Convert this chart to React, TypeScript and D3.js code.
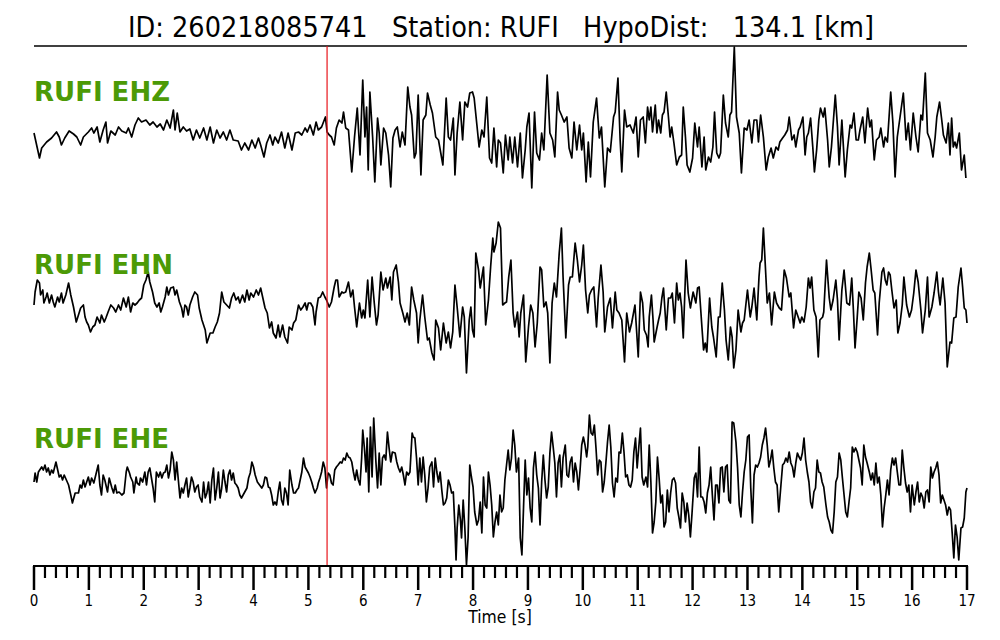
import React from 'react';
import * as d3 from 'd3';

type Pt = [number, number];

const TITLE = 'ID: 260218085741   Station: RUFI   HypoDist:   134.1 [km]';
const CHANNELS = ['RUFI EHZ', 'RUFI EHN', 'RUFI EHE'];
const P_PICK = 5.34;
const MAJOR_TICKS = [0, 1, 2, 3, 4, 5, 6, 7, 8, 9, 10, 11, 12, 13, 14, 15, 16, 17];
const X_LABEL = 'Time [s]';

const EHZ: Pt[] = [
[0.00,-3],[0.10,-28],[0.14,-18],[0.23,-12],[0.32,-8],[0.41,-2],[0.46,-7],[0.50,-15],[0.56,-8],[0.64,-1],[0.72,-4],[0.78,-7],[0.85,-15],[0.90,-7],[0.99,-2],[1.05,2],[1.09,-3],[1.15,3],[1.20,-12],[1.26,0],[1.31,8],[1.34,-13],[1.40,-1],[1.48,-5],[1.54,3],[1.60,-1],[1.68,-3],[1.72,2],[1.78,-7],[1.84,5],[1.90,12],[1.96,8],[2.04,10],[2.11,5],[2.17,8],[2.24,3],[2.30,6],[2.36,0],[2.42,10],[2.48,2],[2.54,20],[2.57,0],[2.61,17],[2.66,-2],[2.72,3],[2.78,-1],[2.84,1],[2.90,-10],[2.96,0],[3.02,-8],[3.09,2],[3.15,-10],[3.21,3],[3.27,-13],[3.33,0],[3.39,-8],[3.45,-2],[3.51,-10],[3.57,0],[3.63,-10],[3.72,-11],[3.78,-20],[3.84,-13],[3.91,-20],[3.97,-10],[4.03,-18],[4.09,-8],[4.13,-15],[4.19,-27],[4.24,-13],[4.30,-5],[4.35,-15],[4.39,-7],[4.45,-13],[4.51,-2],[4.57,-18],[4.63,-3],[4.70,-20],[4.76,-3],[4.82,-2],[4.88,-5],[4.94,2],[4.98,-2],[5.03,5],[5.09,-5],[5.14,8],[5.18,0],[5.24,3],[5.31,13],[5.34,-2],
[5.38,-5],[5.42,-7],[5.47,-15],[5.51,2],[5.56,10],[5.61,7],[5.64,18],[5.68,2],[5.73,0],[5.79,-42],[5.84,-7],[5.89,22],[5.94,-25],[5.99,50],[6.03,-7],[6.06,23],[6.09,-40],[6.12,38],[6.17,-7],[6.21,-52],[6.26,12],[6.29,-3],[6.32,-35],[6.37,2],[6.41,-3],[6.46,-25],[6.50,-57],[6.54,-8],[6.58,0],[6.62,3],[6.67,-17],[6.71,-2],[6.76,-15],[6.81,43],[6.85,23],[6.88,15],[6.93,-28],[6.96,-23],[7.00,35],[7.05,-45],[7.09,10],[7.14,15],[7.17,37],[7.22,25],[7.26,17],[7.32,-7],[7.37,-10],[7.45,-35],[7.51,32],[7.55,-7],[7.59,-10],[7.64,12],[7.67,-45],[7.71,-3],[7.76,28],[7.81,-10],[7.85,28],[7.90,23],[7.94,37],[7.99,38],[8.02,32],[8.07,5],[8.11,-17],[8.16,0],[8.20,-7],[8.25,33],[8.30,-28],[8.34,-33],[8.38,2],[8.43,-37],[8.46,-10],[8.50,-13],[8.55,-43],[8.59,-5],[8.64,-30],[8.67,-7],[8.72,-33],[8.76,-7],[8.81,-37],[8.86,-3],[8.90,-48],[8.95,-20],[8.98,3],[9.02,17],[9.07,-58],[9.12,18],[9.16,-23],[9.21,-30],[9.25,-3],[9.29,-20],[9.35,55],[9.40,-3],[9.45,-10],[9.49,-27],[9.54,38],[9.57,20],[9.61,15],[9.66,8],[9.71,13],[9.75,-18],[9.80,-28],[9.84,8],[9.89,-20],[9.94,5],[9.98,-20],[10.01,-3],[10.06,-52],[10.10,-12],[10.14,-47],[10.19,8],[10.25,32],[10.30,-8],[10.34,3],[10.40,-57],[10.45,-18],[10.50,-22],[10.56,13],[10.59,18],[10.64,52],[10.68,-10],[10.71,-42],[10.76,20],[10.80,3],[10.86,5],[10.92,-3],[10.97,13],[11.01,-27],[11.05,10],[11.10,13],[11.14,-13],[11.18,23],
[11.21,10],[11.24,23],[11.27,-2],[11.32,25],[11.35,-3],[11.38,10],[11.42,-3],[11.45,15],[11.48,18],[11.52,38],[11.56,13],[11.59,-7],[11.62,3],[11.66,-13],[11.71,-35],[11.76,-27],[11.80,-25],[11.83,23],[11.87,-7],[11.90,-35],[11.95,-42],[12.00,-28],[12.04,7],[12.09,-17],[12.12,3],[12.17,-37],[12.21,-7],[12.24,-40],[12.29,-27],[12.33,-32],[12.37,-17],[12.40,18],[12.44,-23],[12.48,-28],[12.51,-23],[12.56,35],[12.60,7],[12.65,-7],[12.68,15],[12.71,18],[12.76,83],[12.80,13],[12.85,-3],[12.89,-43],[12.94,2],[12.99,0],[13.03,10],[13.08,-13],[13.12,10],[13.17,10],[13.20,-12],[13.24,15],[13.29,-7],[13.34,-40],[13.38,-27],[13.43,-18],[13.47,-28],[13.52,-17],[13.56,-20],[13.59,-12],[13.64,-8],[13.68,-5],[13.73,0],[13.76,13],[13.81,-10],[13.85,-5],[13.88,-17],[13.93,0],[13.96,3],[14.01,13],[14.05,-25],[14.08,-7],[14.11,-3],[14.15,12],[14.19,-17],[14.22,-42],[14.26,-20],[14.30,10],[14.33,22],[14.38,13],[14.41,22],[14.46,-10],[14.49,-37],[14.53,-17],[14.60,35],[14.64,3],[14.67,-35],[14.72,10],[14.78,-47],[14.82,-20],[14.87,5],[14.90,2],[14.94,17],[14.98,-10],[15.02,-10],[15.05,0],[15.10,13],[15.14,-13],[15.19,22],[15.23,3],[15.26,10],[15.31,-30],[15.35,-10],[15.40,-7],[15.43,2],[15.48,-17],[15.51,-7],[15.55,-12],[15.61,38],[15.65,7],[15.69,-47],[15.73,-7],[15.78,13],[15.84,37],[15.89,-10],[15.93,7],[15.97,-20],[16.02,17],[16.07,-7],[16.11,-22],[16.16,15],[16.19,10],[16.24,57],[16.28,-3],[16.33,-10],[16.38,-27],[16.42,-7],[16.45,13],[16.50,28],[16.54,10],[16.57,-5],[16.62,-13],[16.66,7],[16.69,-25],[16.72,12],[16.75,-17],[16.78,-12],[16.81,-18],[16.86,-3],[16.90,-40],[16.95,-25],[16.98,-48]
];

const EHN: Pt[] = [
[0.00,-5],[0.02,8],[0.06,20],[0.10,17],[0.12,5],[0.16,10],[0.18,-3],[0.22,3],[0.24,7],[0.28,-3],[0.32,5],[0.35,-2],[0.38,-7],[0.43,3],[0.46,-2],[0.50,7],[0.53,-3],[0.58,5],[0.63,17],[0.67,5],[0.72,-7],[0.77,-22],[0.81,-15],[0.85,-8],[0.90,-5],[0.93,-17],[0.96,-22],[0.99,-25],[1.03,-32],[1.07,-27],[1.11,-25],[1.15,-17],[1.20,-23],[1.23,-15],[1.28,-22],[1.31,-18],[1.35,-12],[1.40,-5],[1.45,-8],[1.49,-12],[1.54,-5],[1.58,-10],[1.63,2],[1.68,-7],[1.72,3],[1.76,-12],[1.80,-3],[1.84,-5],[1.88,-3],[1.92,0],[1.96,2],[2.00,15],[2.04,20],[2.08,28],[2.11,18],[2.16,8],[2.20,-3],[2.24,-7],[2.28,-3],[2.31,-12],[2.34,-7],[2.39,3],[2.42,13],[2.45,5],[2.49,12],[2.54,13],[2.57,5],[2.60,10],[2.65,-2],[2.69,-8],[2.72,-17],[2.75,-5],[2.78,-7],[2.81,-15],[2.84,-5],[2.89,3],[2.93,8],[2.98,5],[3.01,-8],[3.06,-20],[3.09,-25],[3.12,-30],[3.15,-43],[3.18,-38],[3.21,-33],[3.26,-33],[3.30,-27],[3.34,-22],[3.38,-13],[3.42,8],[3.46,-2],[3.51,-5],[3.56,-8],[3.60,2],[3.64,7],[3.68,0],[3.72,3],[3.75,-3],[3.80,5],[3.84,-2],[3.88,10],[3.92,0],[3.95,7],[4.00,3],[4.05,10],[4.09,5],[4.13,12],[4.17,2],[4.21,-8],[4.25,-13],[4.29,-28],[4.33,-22],[4.36,-33],[4.41,-38],[4.45,-25],[4.48,-37],[4.53,-25],[4.57,-37],[4.62,-43],[4.65,-27],[4.70,-30],[4.73,-23],[4.77,-20],[4.82,-5],[4.86,-10],[4.90,-7],[4.94,-3],[4.97,-10],[5.00,-3],[5.04,-3],[5.08,-7],[5.12,-25],[5.14,-12],[5.18,2],[5.22,3],[5.26,8],[5.30,3],[5.33,0],
[5.38,-7],[5.42,-2],[5.47,13],[5.50,20],[5.53,20],[5.56,3],[5.61,8],[5.64,7],[5.68,8],[5.73,18],[5.77,3],[5.81,10],[5.84,-7],[5.88,-27],[5.93,-3],[5.97,-18],[6.00,-10],[6.03,-18],[6.08,20],[6.12,-17],[6.16,23],[6.20,-3],[6.24,-25],[6.27,-15],[6.32,28],[6.36,10],[6.41,22],[6.44,12],[6.49,23],[6.52,0],[6.55,28],[6.60,35],[6.64,18],[6.67,-3],[6.72,-13],[6.76,-22],[6.80,-13],[6.84,-25],[6.88,13],[6.92,0],[6.97,-13],[7.00,-43],[7.03,-20],[7.08,5],[7.12,-17],[7.17,-40],[7.20,-38],[7.25,-53],[7.29,-60],[7.32,-20],[7.37,-28],[7.41,-50],[7.46,-23],[7.51,-43],[7.55,-32],[7.59,-48],[7.63,-32],[7.67,15],[7.71,-7],[7.76,-37],[7.81,-7],[7.84,-17],[7.88,-73],[7.93,-20],[7.96,-7],[7.99,-30],[8.02,-37],[8.05,47],[8.10,30],[8.13,12],[8.19,33],[8.23,-25],[8.28,0],[8.32,33],[8.36,62],[8.38,48],[8.42,57],[8.46,78],[8.50,72],[8.54,-5],[8.58,-3],[8.61,-2],[8.65,23],[8.69,40],[8.73,-13],[8.76,-27],[8.81,-12],[8.84,-37],[8.87,-13],[8.92,5],[8.96,-62],[9.01,-27],[9.05,-5],[9.09,-13],[9.13,-47],[9.17,-23],[9.22,33],[9.25,30],[9.29,-7],[9.33,-2],[9.36,-13],[9.40,-63],[9.44,-3],[9.48,17],[9.52,3],[9.57,47],[9.61,72],[9.64,23],[9.69,-38],[9.74,15],[9.77,23],[9.81,23],[9.86,57],[9.90,40],[9.94,18],[9.98,35],[10.01,55],[10.05,10],[10.09,-13],[10.12,5],[10.16,10],[10.20,13],[10.25,-27],[10.28,2],[10.33,35],[10.37,8],[10.40,-32],[10.45,-7],[10.50,2],[10.54,-28],[10.59,8],[10.62,-10],[10.66,-13],[10.71,-20],[10.76,-62],[10.80,-13],[10.85,-32],[10.89,-23],[10.95,-5],[11.01,-57],[11.05,8],[11.09,-3],[11.12,-30],[11.16,-35],[11.19,-47],
[11.21,-17],[11.25,5],[11.28,-20],[11.30,-42],[11.35,-28],[11.38,-20],[11.41,-13],[11.44,2],[11.47,12],[11.52,-30],[11.56,2],[11.60,2],[11.63,7],[11.67,-23],[11.71,17],[11.74,0],[11.77,7],[11.80,-7],[11.83,-38],[11.88,40],[11.92,7],[11.96,-8],[12.01,8],[12.06,-3],[12.09,12],[12.12,13],[12.17,-27],[12.20,-50],[12.23,-43],[12.26,-52],[12.31,2],[12.35,-27],[12.38,-37],[12.43,-57],[12.47,-17],[12.50,-17],[12.54,17],[12.58,-10],[12.61,-40],[12.65,-60],[12.69,-27],[12.72,-37],[12.75,-68],[12.79,-50],[12.83,-10],[12.88,-32],[12.91,-23],[12.94,-20],[13.00,10],[13.05,-17],[13.08,-7],[13.12,12],[13.17,-20],[13.21,23],[13.23,37],[13.26,40],[13.29,72],[13.32,40],[13.36,-3],[13.40,7],[13.44,-25],[13.49,8],[13.53,-3],[13.58,-8],[13.62,-10],[13.67,30],[13.71,22],[13.76,3],[13.79,7],[13.84,-28],[13.88,-10],[13.93,-18],[13.96,-23],[13.99,-17],[14.03,-22],[14.07,-7],[14.11,22],[14.14,12],[14.17,23],[14.21,-10],[14.25,-17],[14.29,-57],[14.32,-20],[14.37,-17],[14.39,-12],[14.44,40],[14.49,2],[14.52,-10],[14.56,0],[14.61,20],[14.64,0],[14.67,-40],[14.72,10],[14.76,30],[14.81,-3],[14.86,-5],[14.90,22],[14.93,-10],[14.96,-48],[15.00,-17],[15.03,8],[15.07,2],[15.11,-20],[15.15,17],[15.18,33],[15.22,47],[15.25,32],[15.29,10],[15.32,7],[15.37,-35],[15.40,-3],[15.45,28],[15.48,32],[15.51,20],[15.54,15],[15.57,28],[15.60,25],[15.63,10],[15.67,-8],[15.71,0],[15.74,-33],[15.78,-23],[15.82,-5],[15.85,23],[15.90,-5],[15.95,-17],[15.99,-10],[16.03,7],[16.07,30],[16.11,18],[16.16,-10],[16.19,-33],[16.24,-10],[16.28,23],[16.31,-17],[16.36,-7],[16.40,7],[16.45,28],[16.48,8],[16.51,-5],[16.56,22],[16.60,-3],[16.64,-67],[16.69,-42],[16.72,-43],[16.76,-18],[16.80,-17],[16.84,13],[16.89,32],[16.92,13],[16.95,-8],[16.98,-10],[17.00,-23]
];

const EHE: Pt[] = [
[0.00,-7],[0.02,2],[0.05,-7],[0.08,3],[0.14,8],[0.17,5],[0.20,10],[0.23,3],[0.26,7],[0.29,0],[0.32,5],[0.35,2],[0.40,13],[0.46,-2],[0.49,0],[0.52,-5],[0.55,0],[0.63,-10],[0.67,-20],[0.70,-28],[0.75,-18],[0.81,-18],[0.84,-10],[0.87,-13],[0.90,-5],[0.93,-12],[0.99,-2],[1.02,-10],[1.05,-3],[1.09,-8],[1.17,10],[1.20,-10],[1.23,-20],[1.26,0],[1.29,-5],[1.34,-17],[1.37,-3],[1.42,-13],[1.45,-18],[1.48,-10],[1.51,-18],[1.55,-17],[1.60,-20],[1.64,-18],[1.68,3],[1.70,8],[1.74,2],[1.76,-2],[1.80,-7],[1.82,-18],[1.86,-2],[1.88,-8],[1.92,-10],[1.94,-3],[1.98,-7],[2.02,3],[2.05,-10],[2.08,3],[2.11,7],[2.14,-3],[2.17,-13],[2.20,-27],[2.23,3],[2.27,-2],[2.30,3],[2.33,-3],[2.36,2],[2.39,3],[2.42,10],[2.45,-3],[2.48,5],[2.51,23],[2.54,15],[2.57,-5],[2.60,13],[2.63,-5],[2.66,-23],[2.69,-13],[2.72,-18],[2.75,-10],[2.78,-3],[2.81,-22],[2.84,-13],[2.87,-2],[2.90,-7],[2.93,-17],[2.96,-12],[2.99,-10],[3.02,-22],[3.06,-27],[3.09,-7],[3.12,-23],[3.15,-18],[3.18,-7],[3.21,-28],[3.24,-5],[3.27,7],[3.30,-25],[3.33,-13],[3.36,3],[3.39,-23],[3.42,-13],[3.45,5],[3.48,-7],[3.51,-17],[3.54,0],[3.57,5],[3.60,-5],[3.63,2],[3.66,-8],[3.69,-10],[3.72,-13],[3.75,-20],[3.78,-23],[3.81,-20],[3.84,-17],[3.88,-13],[3.91,-3],[3.94,2],[3.97,13],[4.00,8],[4.03,0],[4.07,-7],[4.11,-10],[4.15,-13],[4.18,-10],[4.21,-2],[4.24,-3],[4.27,-12],[4.30,-13],[4.33,-20],[4.36,-30],[4.39,-27],[4.42,-30],[4.45,-17],[4.48,-7],[4.51,-25],[4.54,-30],[4.57,-13],[4.60,-18],[4.63,-30],[4.66,5],[4.70,-10],[4.73,-18],[4.76,-18],[4.79,-15],[4.82,-13],[4.85,-5],[4.88,3],[4.91,17],[4.94,8],[4.97,5],[5.00,2],[5.03,-2],[5.06,-7],[5.09,-13],[5.12,-18],[5.16,-13],[5.18,-8],[5.21,-3],[5.24,3],[5.27,13],[5.30,7],[5.33,-13],[5.36,2],[5.39,0],[5.42,-8],[5.45,-10],
[5.48,5],[5.51,8],[5.54,10],[5.58,13],[5.61,12],[5.64,17],[5.67,15],[5.70,22],[5.73,18],[5.76,17],[5.79,13],[5.82,3],[5.85,-5],[5.88,5],[5.91,-5],[5.94,-10],[5.97,17],[5.99,45],[6.02,27],[6.05,3],[6.07,37],[6.10,-17],[6.13,48],[6.16,-2],[6.19,57],[6.23,13],[6.26,-13],[6.29,22],[6.32,-10],[6.35,17],[6.38,20],[6.41,15],[6.44,43],[6.47,27],[6.50,13],[6.53,23],[6.58,22],[6.61,13],[6.64,7],[6.67,3],[6.70,8],[6.73,0],[6.76,-10],[6.79,3],[6.82,0],[6.85,3],[6.89,42],[6.91,38],[6.94,37],[6.97,17],[7.00,-10],[7.03,17],[7.06,-7],[7.09,18],[7.12,0],[7.15,-27],[7.18,-13],[7.21,8],[7.25,13],[7.28,-12],[7.31,17],[7.34,3],[7.37,-7],[7.40,3],[7.43,-15],[7.46,-30],[7.49,-28],[7.52,-23],[7.55,-5],[7.58,-10],[7.61,-18],[7.64,-17],[7.67,-53],[7.69,-85],[7.71,-53],[7.74,-30],[7.77,-45],[7.79,-63],[7.82,-25],[7.85,-53],[7.88,-90],[7.91,-62],[7.94,10],[7.97,-2],[8.00,-12],[8.03,-37],[8.07,-50],[8.10,-45],[8.13,-27],[8.16,-58],[8.19,-2],[8.22,-30],[8.25,-33],[8.28,3],[8.31,-10],[8.34,-30],[8.37,-62],[8.40,-47],[8.43,-37],[8.46,-50],[8.49,-20],[8.52,-37],[8.55,-33],[8.58,-5],[8.61,10],[8.64,25],[8.67,5],[8.70,17],[8.73,45],[8.76,30],[8.79,3],[8.83,17],[8.86,-63],[8.89,-80],[8.92,-32],[8.95,15],[8.98,-20],[9.01,-3],[9.04,-33],[9.07,-47],[9.10,7],[9.13,23],[9.16,0],[9.19,-13],[9.22,-50],[9.25,-7],[9.28,20],[9.31,-5],[9.34,-23],[9.37,-12],[9.40,22],[9.43,43],[9.46,28],[9.49,12],[9.52,-22],[9.55,12],[9.58,20],[9.61,-12],[9.64,17],[9.68,30],[9.71,0],[9.74,-2],[9.77,13],[9.80,18],[9.83,-7],[9.86,12],[9.89,3],[9.92,-15],[9.95,5],[9.98,30],[10.01,38],[10.04,30],[10.07,18],[10.09,28],[10.12,60],[10.15,42],[10.18,40],[10.21,50],[10.24,27],[10.27,0],[10.30,15],[10.33,13],[10.36,-17],[10.39,-7],[10.42,12],[10.45,33],[10.48,50],[10.51,28],[10.54,-8],[10.57,-22],[10.60,-3],[10.63,-7],[10.66,23],[10.69,22],[10.72,42],[10.75,23],[10.78,-2],[10.81,0],[10.84,-10],[10.87,-12],[10.90,-5],[10.93,23],[10.96,37],[10.99,7],[11.02,28],[11.05,47],[11.08,-2],[11.11,-10],[11.15,-2],[11.18,-12],
[11.21,30],[11.24,-7],[11.27,-58],[11.30,-47],[11.33,-27],[11.36,18],[11.39,-3],[11.42,-28],[11.45,-20],[11.48,-52],[11.51,-47],[11.54,-15],[11.57,-37],[11.60,-18],[11.63,-5],[11.66,-3],[11.69,-8],[11.72,-33],[11.75,-42],[11.78,-53],[11.81,-18],[11.84,-27],[11.87,-47],[11.90,-28],[11.93,-40],[11.96,-62],[11.99,-38],[12.03,-3],[12.06,2],[12.09,-22],[12.12,28],[12.15,-22],[12.18,-22],[12.21,-27],[12.24,-38],[12.27,-18],[12.30,-10],[12.33,8],[12.36,-20],[12.39,-45],[12.42,-10],[12.45,-10],[12.48,-28],[12.51,7],[12.54,8],[12.57,-17],[12.60,8],[12.63,10],[12.66,-25],[12.69,-28],[12.72,53],[12.75,52],[12.79,33],[12.82,7],[12.85,-30],[12.88,-42],[12.91,-17],[12.94,3],[12.97,15],[13.00,38],[13.03,40],[13.06,-13],[13.09,-48],[13.12,0],[13.15,10],[13.18,8],[13.21,12],[13.24,18],[13.27,30],[13.30,37],[13.33,47],[13.36,30],[13.39,8],[13.42,15],[13.45,25],[13.48,7],[13.51,-7],[13.54,-10],[13.57,-37],[13.61,-10],[13.64,10],[13.67,12],[13.70,17],[13.73,13],[13.76,23],[13.79,12],[13.82,8],[13.85,-2],[13.88,12],[13.91,22],[13.94,18],[13.97,15],[14.00,22],[14.03,37],[14.06,15],[14.09,3],[14.12,-7],[14.15,-27],[14.18,-33],[14.21,-17],[14.24,-13],[14.27,15],[14.30,3],[14.33,2],[14.36,-7],[14.39,-12],[14.43,-30],[14.46,-42],[14.49,-47],[14.52,-55],[14.55,-58],[14.58,-37],[14.61,-7],[14.64,-2],[14.67,22],[14.70,15],[14.73,-3],[14.76,-20],[14.79,-37],[14.82,-42],[14.85,-27],[14.88,-13],[14.91,28],[14.94,23],[14.97,27],[15.00,23],[15.03,15],[15.06,7],[15.09,-10],[15.12,30],[15.15,18],[15.18,12],[15.22,3],[15.25,-5],[15.28,2],[15.31,-10],[15.34,12],[15.37,-8],[15.40,-2],[15.43,-20],[15.46,-52],[15.49,-33],[15.52,-20],[15.55,-5],[15.58,-20],[15.61,5],[15.64,17],[15.67,10],[15.70,17],[15.73,3],[15.76,-10],[15.79,-10],[15.82,25],[15.85,7],[15.88,-8],[15.91,-17],[15.94,-10],[15.97,-37],[16.00,-10],[16.04,-30],[16.07,-17],[16.10,-7],[16.13,-27],[16.16,-18],[16.19,-22],[16.22,-33],[16.25,-17],[16.28,-15],[16.31,-27],[16.34,8],[16.37,-3],[16.40,3],[16.43,7],[16.46,13],[16.49,0],[16.52,-28],[16.55,-20],[16.58,-25],[16.61,-30],[16.64,-40],[16.67,-32],[16.70,-35],[16.73,-58],[16.76,-83],[16.79,-50],[16.82,-62],[16.85,-85],[16.89,-53],[16.92,-52],[16.95,-43],[16.98,-17],[17.00,-13]
];

const TRACES = [EHZ, EHN, EHE];

export default function App() {
  const W = 1000;
  const H = 640;
  const x0 = 34;
  const x1 = 967;
  const topY = 46;
  const axisY = 566;
  const centers = [130, 300, 475];
  const x = d3.scaleLinear().domain([0, 17]).range([x0, x1]);
  const minorTicks = d3.range(0, 85 + 1).map((i) => i / 5).filter((v) => Math.abs(v - Math.round(v)) > 1e-6);

  return (
    <svg width={W} height={H} style={{ position: 'absolute', left: 0, top: 0, background: '#fff' }}
      fontFamily="'DejaVu Sans', sans-serif">
      <text x={128} y={37} fontSize={28} textLength={746} lengthAdjust="spacingAndGlyphs"
        style={{ whiteSpace: 'pre' }} fill="#000">{TITLE}</text>
      <line x1={x0} x2={x1} y1={topY} y2={topY} stroke="#000" strokeWidth={1.5} />
      {TRACES.map((tr, i) => {
        const y = d3.scaleLinear().domain([-100, 100]).range([centers[i] + 100, centers[i] - 100]);
        const gen = d3.line<Pt>().x((d) => x(d[0])).y((d) => y(d[1]));
        return (
          <g key={i}>
            <path d={gen(tr) || ''} fill="none" stroke="#000" strokeWidth={1.7} strokeLinejoin="round" />
          </g>
        );
      })}
      {CHANNELS.map((c, i) => (
        <text key={c} x={34} y={[101, 274, 448][i]} fontSize={26} fontWeight="bold" fill="#4c9a06">{c}</text>
      ))}
      <line x1={x(P_PICK)} x2={x(P_PICK)} y1={topY} y2={axisY} stroke="#e8141a" strokeWidth={1.2} />
      <line x1={x0 - 1} x2={x1 + 1} y1={axisY} y2={axisY} stroke="#000" strokeWidth={2.2} />
      {minorTicks.map((t) => (
        <line key={'m' + t} x1={x(t)} x2={x(t)} y1={axisY} y2={axisY + 12} stroke="#000" strokeWidth={2.2} />
      ))}
      {MAJOR_TICKS.map((t) => (
        <g key={'M' + t}>
          <line x1={x(t)} x2={x(t)} y1={axisY} y2={axisY + 24} stroke="#000" strokeWidth={2.5} />
          <text x={x(t)} y={606} fontSize={15} textAnchor="middle" fill="#000"
            transform={`translate(${x(t)},0) scale(0.9,1) translate(${-x(t)},0)`}>{t}</text>
        </g>
      ))}
      <text x={500} y={623} fontSize={17} textAnchor="middle" fill="#000"
        transform="translate(500,0) scale(0.92,1) translate(-500,0)">{X_LABEL}</text>
    </svg>
  );
}
